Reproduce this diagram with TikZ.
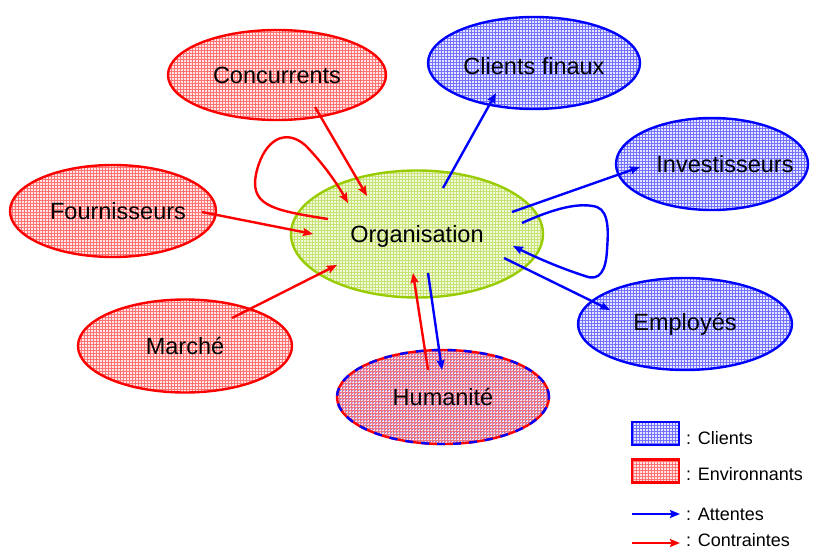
\documentclass[tikz,border=0pt]{standalone}
\usepackage{fontspec}
\setmainfont{Liberation Sans}
\usetikzlibrary{shapes.geometric,patterns,arrows.meta,calc}
\definecolor{myred}{RGB}{255,0,0}
\definecolor{myblue}{RGB}{0,0,255}
\definecolor{mygreen}{RGB}{153,204,0}
\tikzset{
  ell/.style={ellipse, inner sep=0pt, line width=2.4pt, font=\fontsize{23.5}{27}\selectfont},
  envell/.style={ell, draw=myred, preaction={fill=red!10}, pattern=grid, pattern color=red!55},
  cliell/.style={ell, draw=myblue, preaction={fill=blue!10}, pattern=grid, pattern color=blue!55},
  orgell/.style={ell, draw=mygreen, preaction={fill=mygreen!14}, pattern=grid, pattern color=mygreen!55},
  humell/.style={ell, draw=myred, preaction={fill=red!10}, preaction={pattern=grid, pattern color=red!55},
     pattern=crosshatch dots, pattern color=blue!55,
     postaction={draw=myblue, line width=2.4pt, dash pattern=on 8pt off 8pt}},
  tip/.style={-{Stealth[length=10pt,width=8pt,inset=1.5pt]}},
  att/.style={draw=myblue, line width=2.4pt, tip},
  con/.style={draw=myred, line width=2.4pt, tip},
  legtxt/.style={anchor=west, inner sep=0pt, font=\fontsize{18}{21}\selectfont},
  legrect/.style={rectangle, inner sep=0pt, minimum width=47pt, minimum height=23pt, line width=2.4pt},
}
\begin{document}
\begin{tikzpicture}[x=1pt,y=-1pt]
\useasboundingbox (0,0) rectangle (821,551);

% ellipses
\node[envell, minimum width=218pt, minimum height=90pt] (conc) at (277,75) {Concurrents};
\node[cliell, minimum width=212pt, minimum height=92pt,
      label={[yshift=-3pt, font=\fontsize{23.5}{27}\selectfont]center:Clients finaux}] (clf) at (534,63) {};
\node[cliell, minimum width=192pt, minimum height=92pt,
      label={[xshift=13pt, font=\fontsize{23.5}{27}\selectfont]center:Investisseurs}] (inv) at (712,164) {};
\node[envell, minimum width=206pt, minimum height=92pt,
      label={[xshift=5pt, font=\fontsize{23.5}{27}\selectfont]center:Fournisseurs}] (four) at (113,211) {};
\node[orgell, minimum width=252pt, minimum height=127pt,
      label={[yshift=-2pt, font=\fontsize{23.5}{27}\selectfont]center:Organisation}] (org) at (417,234) {};
\node[envell, minimum width=214pt, minimum height=93pt] (mar) at (185,346) {Marché};
\node[cliell, minimum width=214pt, minimum height=92pt] (emp) at (685,324) {Employés};
\node[humell, minimum width=212pt, minimum height=94pt] (hum) at (443,397) {Humanité};

% contraintes (red)
\draw[con] ($(conc)+(38,32)$) -- ($(org)+(-50,-38)$);
\draw[con] ($(org)+(-89,-15)$) .. controls ($(org)+(-147,-24)$) and ($(org)+(-169,-29)$) .. ($(org)+(-160,-64)$)
   .. controls ($(org)+(-152,-94)$) and ($(org)+(-132,-106)$) .. ($(org)+(-112,-89)$)
   .. controls ($(org)+(-97,-74)$) and ($(org)+(-82,-54)$) .. ($(org)+(-69,-31)$);
\draw[con] ($(four)+(89,1)$) -- ($(org)+(-104,0)$);
\draw[con] ($(mar)+(47,-28)$) -- ($(org)+(-80,31)$);
\draw[con] ($(hum)+(-15,-27)$) -- ($(org)+(-4,39)$);

% attentes (blue)
\draw[att] ($(org)+(26,-46)$) -- ($(clf)+(-38,30)$);
\draw[att] ($(org)+(95,-22)$) -- ($(inv)+(-72,3)$);
\draw[att] ($(org)+(105,-11)$) .. controls ($(org)+(138,-26)$) and ($(org)+(163,-32)$) .. ($(org)+(180,-27)$)
   .. controls ($(org)+(193,-22)$) and ($(org)+(191,1)$) .. ($(org)+(190,16)$)
   .. controls ($(org)+(189,36)$) and ($(org)+(183,48)$) .. ($(org)+(168,42)$)
   .. controls ($(org)+(143,34)$) and ($(org)+(118,23)$) .. ($(org)+(96,12)$);
\draw[att] ($(org)+(87,24)$) -- ($(emp)+(-75,-14)$);
\draw[att] ($(org)+(11,39)$) -- ($(hum)+(-1,-27)$);

% legend
\node[legrect, draw=myblue, preaction={fill=blue!10}, pattern=grid, pattern color=blue!55] (lcli) at (655.5,433.5) {};
\node[legtxt] (tcli) at (686,438) {: Clients};
\node[legrect, draw=myred, preaction={fill=red!10}, pattern=grid, pattern color=red!55] (lenv) at (655.5,471) {};
\node[legtxt] (tenv) at (686,474) {: Environnants};
\coordinate (a1) at (632,514);
\coordinate (a2) at (680,514);
\draw[att, line width=2pt] (a1) -- (a2);
\node[legtxt] (tatt) at (686,514) {: Attentes};
\coordinate (c1) at (632,543);
\coordinate (c2) at (680,543);
\draw[con, line width=2pt] (c1) -- (c2);
\node[legtxt] (tcon) at (686,540) {: Contraintes};
\end{tikzpicture}
\end{document}
